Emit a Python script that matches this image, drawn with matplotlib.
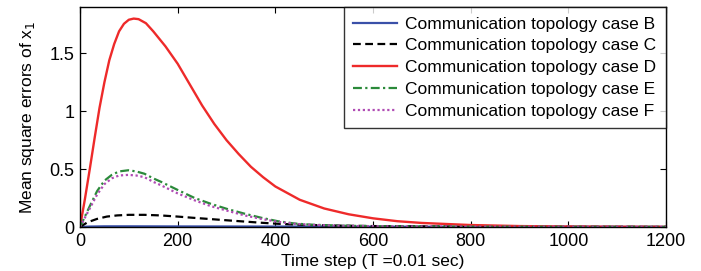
import matplotlib
matplotlib.use("Agg")
import matplotlib.pyplot as plt

# Time steps and values
t_D = [0, 10, 20, 30, 40, 50, 60, 70, 80, 90, 100, 110, 120, 135, 150, 175, 200, 225, 250, 275, 300, 325, 350, 375, 400, 450, 500, 550, 600, 650, 700, 800, 900, 1000, 1100, 1200]
v_D = [0, 0.24, 0.50, 0.77, 1.03, 1.25, 1.44, 1.58, 1.69, 1.755, 1.79, 1.80, 1.795, 1.76, 1.69, 1.56, 1.41, 1.23, 1.05, 0.89, 0.75, 0.63, 0.52, 0.43, 0.35, 0.235, 0.16, 0.11, 0.075, 0.05, 0.035, 0.017, 0.008, 0.004, 0.002, 0.001]

t_E = [0, 10, 20, 35, 50, 65, 80, 99, 115, 132, 150, 166, 200, 235, 268, 302, 337, 371, 405, 440, 473, 550, 650, 800, 1000, 1200]
v_E = [0, 0.09, 0.18, 0.31, 0.40, 0.45, 0.48, 0.49, 0.48, 0.46, 0.42, 0.39, 0.32, 0.25, 0.20, 0.155, 0.115, 0.08, 0.05, 0.03, 0.02, 0.01, 0.005, 0.003, 0.002, 0.001]

t_F = [0, 10, 20, 35, 50, 65, 80, 99, 115, 132, 150, 166, 200, 235, 268, 302, 337, 371, 405, 440, 473, 550, 650, 800, 1000, 1200]
v_F = [0, 0.08, 0.16, 0.28, 0.37, 0.42, 0.445, 0.45, 0.445, 0.43, 0.39, 0.36, 0.29, 0.23, 0.18, 0.14, 0.10, 0.07, 0.045, 0.028, 0.018, 0.009, 0.005, 0.003, 0.002, 0.001]

t_C = [0, 15, 35, 55, 76, 100, 132, 165, 200, 230, 262, 300, 337, 370, 405, 450, 500, 600, 800, 1000, 1200]
v_C = [0, 0.04, 0.07, 0.09, 0.10, 0.105, 0.105, 0.10, 0.09, 0.08, 0.07, 0.058, 0.047, 0.037, 0.028, 0.02, 0.014, 0.008, 0.003, 0.002, 0.001]

t_B = [0, 20, 50, 100, 200, 400, 600, 800, 1000, 1200]
v_B = [0, 0.004, 0.006, 0.006, 0.005, 0.004, 0.003, 0.002, 0.002, 0.001]

labels = ["Communication topology case B", "Communication topology case C",
          "Communication topology case D", "Communication topology case E",
          "Communication topology case F"]
xticks = [0, 200, 400, 600, 800, 1000, 1200]
yticks = [0, 0.5, 1, 1.5]
ytick_labels = ["0", "0.5", "1", "1.5"]

plt.rcParams['font.family'] = ['Liberation Sans', 'DejaVu Sans']

fig = plt.figure(figsize=(7.01, 2.71), dpi=100)
ax = fig.add_axes([80/701, 44/271, 586/701, 220/271])

ax.plot(t_B, v_B, color='#3a50a8', lw=1.6, label=labels[0])
ax.plot(t_C, v_C, color='black', lw=1.6, ls=(0, (3.5, 2)), label=labels[1])
ax.plot(t_D, v_D, color='#ee2a2a', lw=1.7, label=labels[2])
ax.plot(t_E, v_E, color='#2b8a3a', lw=1.6, ls=(0, (4, 1.5, 1, 1.5)), label=labels[3])
ax.plot(t_F, v_F, color='#b04cb4', lw=1.6, ls=(0, (1, 1.2)), label=labels[4])

ax.set_xlim(0, 1200)
ax.set_ylim(0, 1.9)
ax.set_xticks(xticks)
ax.set_xticklabels([str(x) for x in xticks])
ax.set_yticks(yticks)
ax.set_yticklabels(ytick_labels)
ax.tick_params(direction='in', top=True, right=True, labelsize=13, length=4, width=0.8, pad=4)
for s in ax.spines.values():
    s.set_linewidth(1.0)

ax.set_xlabel("Time step (T =0.01 sec)", fontsize=12.5, labelpad=3.5)
ax.set_ylabel("Mean square errors of x$_1$", fontsize=12.5, labelpad=9)

leg = ax.legend(loc='upper right', bbox_to_anchor=(1, 1), borderaxespad=0,
                fontsize=12.5, frameon=True, fancybox=False, handlelength=2.5,
                handletextpad=0.5, labelspacing=0.38, borderpad=0.55)
leg.get_frame().set_edgecolor('black')
leg.get_frame().set_linewidth(1.0)

fig.savefig("out.png", dpi=100)
